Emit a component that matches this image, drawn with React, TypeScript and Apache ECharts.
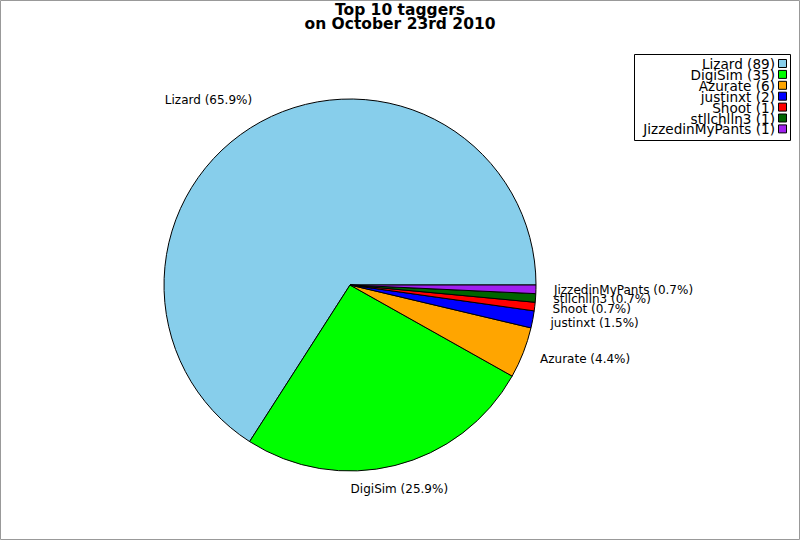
import React, { useEffect, useRef } from "react";
import * as echarts from "echarts";

const names = ["Lizard", "DigiSim", "Azurate", "justinxt", "Shoot", "stllchlln3", "JizzedinMyPants"];
const values = [89, 35, 6, 2, 1, 1, 1];
const colors = ["#87CEEB", "#00FF00", "#FFA500", "#0000FF", "#FF0000", "#006400", "#A020F0"];
const titleText = "Top 10 taggers\non October 23rd 2010";

export default function App() {
  const ref = useRef<HTMLDivElement>(null);
  useEffect(() => {
    document.body.style.margin = "0";
    const chart = echarts.init(ref.current!, null, { renderer: "svg" });
    const total = values.reduce((a, b) => a + b, 0);
    const font = "DejaVu Sans";
    const legendX = 634;
    const legendY = 54;
    const rowH = 10.9;
    const legendItems: any[] = [];
    names.forEach((n, i) => {
      legendItems.push({
        type: "text",
        x: 775,
        y: legendY + 10 + i * rowH,
        style: {
          text: `${n} (${values[i]})`,
          fontFamily: font,
          fontSize: 13.6,
          fill: "#000",
          align: "right",
          verticalAlign: "middle",
        },
      });
      legendItems.push({
        type: "rect",
        shape: { x: 778.5, y: legendY + 5.5 + i * rowH, width: 8, height: 8 },
        style: { fill: colors[i], stroke: "#000", lineWidth: 1 },
      });
    });
    // mid angles (counter-clockwise from 0deg)
    const mids: number[] = [];
    let acc = 0;
    values.forEach((v) => {
      mids.push(((acc + v / 2) / total) * 2 * Math.PI);
      acc += v;
    });
    chart.setOption({
      animation: false,
      backgroundColor: "#fff",
      title: {
        text: titleText,
        left: "center",
        top: 3,
        padding: 0,
        textStyle: { fontFamily: font, fontSize: 15.5, fontWeight: "bold", color: "#000", lineHeight: 14 },
      },
      graphic: [
        {
          type: "rect",
          shape: { x: 0.5, y: 0.5, width: 799, height: 539 },
          style: { fill: "none", stroke: "#999", lineWidth: 1 },
          silent: true,
        },
        {
          type: "rect",
          shape: { x: legendX + 0.5, y: legendY + 0.5, width: 156, height: 86 },
          style: { fill: "#fff", stroke: "#000", lineWidth: 1 },
        },
        ...legendItems,
      ],
      series: [
        {
          type: "pie",
          center: [350, 285],
          radius: 186,
          startAngle: 0,
          clockwise: false,
          avoidLabelOverlap: false,
          minShowLabelAngle: 0,
          itemStyle: { borderColor: "#000", borderWidth: 1 },
          label: {
            show: true,
            position: "outside",
            fontFamily: font,
            fontSize: 12,
            color: "#000",
            distanceToLabelLine: 0,
            formatter: (p: any) => `${p.name} (${((p.value / total) * 100).toFixed(1)}%)`,
          },
          labelLine: { show: false, length: 18, length2: 0 },
          labelLayout: (p: any) => {
            const m = mids[p.dataIndex];
            const s = Math.sin(m);
            const h = p.labelRect.height;
            const out: any = {};
            if (Math.abs(Math.cos(m)) < 0.4) out.align = "center";
            if (Math.abs(s) > 0.7) out.dy = s > 0 ? -h / 2 : h / 2;
            return out;
          },
          emphasis: { disabled: true },
          data: names.map((n, i) => ({ name: n, value: values[i], itemStyle: { color: colors[i] } })),
        },
      ],
    });
    return () => chart.dispose();
  }, []);
  return <div ref={ref} style={{ width: 800, height: 540 }} />;
}
